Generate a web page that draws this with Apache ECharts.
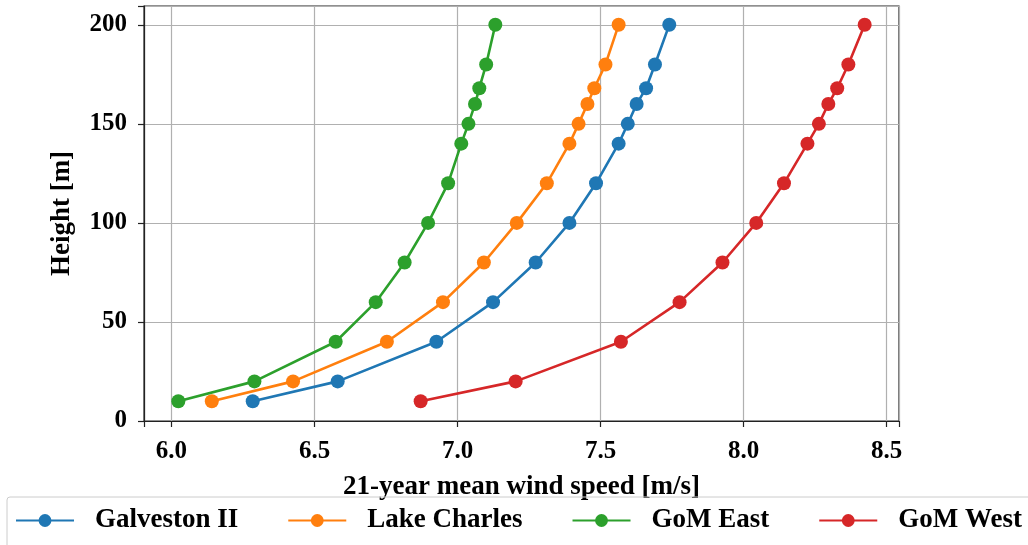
<!DOCTYPE html>
<html>
<head>
<meta charset="utf-8">
<script src="https://cdn.jsdelivr.net/npm/echarts@6/dist/echarts.min.js"></script>
<style>
html,body{margin:0;padding:0;background:#fff;}
#chart{width:1028px;height:545px;}
</style>
</head>
<body>
<div id="chart"></div>
<script>
// Heights [m]
const heights = [10, 20, 40, 60, 80, 100, 120, 140, 150, 160, 168, 180, 200];
// Mean wind speed [m/s] per site
const galveston = [6.284, 6.581, 6.926, 7.124, 7.273, 7.391, 7.484, 7.563, 7.595, 7.626, 7.659, 7.690, 7.740];
const lakeCharles = [6.141, 6.425, 6.753, 6.949, 7.092, 7.207, 7.312, 7.391, 7.423, 7.454, 7.478, 7.517, 7.563];
const gomEast = [6.024, 6.290, 6.574, 6.714, 6.815, 6.897, 6.967, 7.013, 7.038, 7.061, 7.076, 7.100, 7.132];
const gomWest = [6.871, 7.203, 7.571, 7.776, 7.926, 8.044, 8.141, 8.223, 8.263, 8.296, 8.327, 8.366, 8.423];
const seriesNames = ['Galveston II', 'Lake Charles', 'GoM East', 'GoM West'];
const seriesValues = [galveston, lakeCharles, gomEast, gomWest];
const colors = ['#1f77b4', '#ff7f0e', '#2ca02c', '#d62728'];

const FONT = 'Liberation Serif';
const chart = echarts.init(document.getElementById('chart'), null, {renderer: 'canvas'});

const series = seriesNames.map((name, i) => ({
  name: name,
  type: 'line',
  data: seriesValues[i].map((v, j) => [v, heights[j]]),
  symbol: 'circle',
  symbolSize: 14,
  showSymbol: true,
  lineStyle: {width: 2.6, color: colors[i]},
  itemStyle: {color: colors[i]},
  emphasis: {disabled: true},
  z: 2 + i
}));

chart.setOption({
  animation: false,
  grid: {
    left: 144, top: 6, right: 129, bottom: 124,
    show: true, borderColor: '#222', borderWidth: 1.2, backgroundColor: 'transparent'
  },
  legend: {
    data: seriesNames,
    left: 7, top: 497, width: 1200,
    orient: 'horizontal',
    itemWidth: 58, itemHeight: 16, itemGap: 49,
    padding: [10, 30, 14, 8],
    borderColor: '#cccccc', borderWidth: 1, borderRadius: 3,
    backgroundColor: 'transparent',
    z: 1,
    textStyle: {fontFamily: FONT, fontWeight: 'bold', fontSize: 27, color: '#000', padding: [0, 0, 0, 16]}
  },
  xAxis: {
    type: 'value',
    min: 5.904, max: 8.543,
    minInterval: 0.5, maxInterval: 0.5,
    name: '21-year mean wind speed [m/s]',
    nameLocation: 'middle', nameGap: 53,
    nameTextStyle: {fontFamily: FONT, fontWeight: 'bold', fontSize: 27, color: '#000'},
    axisLine: {show: true, onZero: false, lineStyle: {color: '#222', width: 1.2}},
    axisTick: {show: true, inside: false, length: 6, lineStyle: {color: '#222', width: 1.2}},
    axisLabel: {
      fontFamily: FONT, fontWeight: 'bold', fontSize: 25, color: '#000', margin: 18,
      formatter: v => (Math.abs(v * 2 - Math.round(v * 2)) < 1e-6 ? v.toFixed(1) : '')
    },
    splitLine: {show: true, lineStyle: {color: '#b0b0b0', width: 1.2}}
  },
  yAxis: {
    type: 'value',
    min: 0, max: 209.5, interval: 50,
    name: 'Height [m]',
    nameLocation: 'middle', nameGap: 68, nameRotate: 90,
    nameTextStyle: {fontFamily: FONT, fontWeight: 'bold', fontSize: 27, color: '#000'},
    axisLine: {show: true, onZero: false, lineStyle: {color: '#222', width: 1.2}},
    axisTick: {show: true, inside: false, length: 6, lineStyle: {color: '#222', width: 1.2}},
    axisLabel: {
      fontFamily: FONT, fontWeight: 'bold', fontSize: 25, color: '#000', margin: 17,
      formatter: v => (Math.abs(v / 50 - Math.round(v / 50)) < 1e-6 ? String(Math.round(v)) : '')
    },
    splitLine: {show: true, lineStyle: {color: '#b0b0b0', width: 1.2}}
  },
  series: series
});
</script>
</body>
</html>
